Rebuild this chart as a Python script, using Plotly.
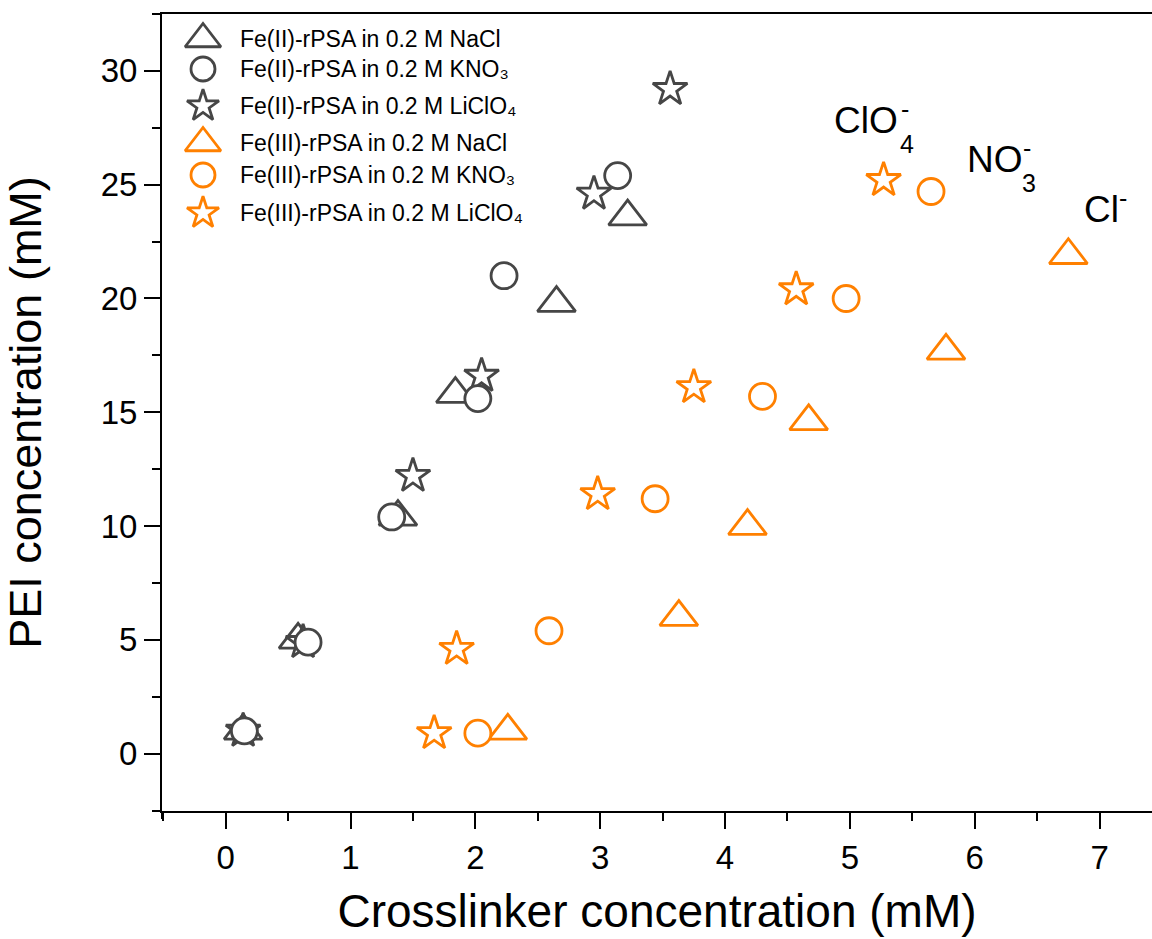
import plotly.graph_objects as go

# ---------------- data ----------------
fe2_nacl_x = [0.14, 0.58, 1.38, 1.84, 2.65, 3.22]
fe2_nacl_y = [1.0, 5.0, 10.4, 15.8, 19.8, 23.6]
fe2_kno3_x = [0.15, 0.66, 1.33, 2.02, 2.23, 3.14]
fe2_kno3_y = [1.0, 4.9, 10.4, 15.6, 21.0, 25.4]
fe2_liclo4_x = [0.14, 0.62, 1.50, 2.05, 2.95, 3.56]
fe2_liclo4_y = [1.0, 4.9, 12.2, 16.6, 24.6, 29.2]

fe3_nacl_x = [2.26, 3.63, 4.18, 4.67, 5.77, 6.75]
fe3_nacl_y = [1.0, 6.0, 10.0, 14.6, 17.7, 21.9]
fe3_kno3_x = [2.02, 2.59, 3.44, 4.30, 4.97, 5.65]
fe3_kno3_y = [0.9, 5.4, 11.2, 15.7, 20.0, 24.7]
fe3_liclo4_x = [1.67, 1.85, 2.98, 3.75, 4.57, 5.27]
fe3_liclo4_y = [0.9, 4.6, 11.4, 16.1, 20.4, 25.2]

series_names = [
    "Fe(II)-rPSA in 0.2 M NaCl",
    "Fe(II)-rPSA in 0.2 M KNO\u2083",
    "Fe(II)-rPSA in 0.2 M LiClO\u2084",
    "Fe(III)-rPSA in 0.2 M NaCl",
    "Fe(III)-rPSA in 0.2 M KNO\u2083",
    "Fe(III)-rPSA in 0.2 M LiClO\u2084",
]
x_tick_vals = [0, 1, 2, 3, 4, 5, 6, 7]
y_tick_vals = [0, 5, 10, 15, 20, 25, 30]

# ---------------- styles ----------------
GRAY = "#464646"
ORANGE = "#FF8000"
FONT = "Liberation Sans, Arial, DejaVu Sans, sans-serif"
W, H = 1152, 939
ML, MR, MT, MB = 162, 0, 14, 128
PW, PH = W - ML - MR, H - MT - MB

sizes = {"triangle-up": 33, "circle": 26, "star": 26}
LW = 2.8

series = [
    (fe2_nacl_x, fe2_nacl_y, "triangle-up", GRAY, series_names[0]),
    (fe2_kno3_x, fe2_kno3_y, "circle", GRAY, series_names[1]),
    (fe2_liclo4_x, fe2_liclo4_y, "star", GRAY, series_names[2]),
    (fe3_nacl_x, fe3_nacl_y, "triangle-up", ORANGE, series_names[3]),
    (fe3_kno3_x, fe3_kno3_y, "circle", ORANGE, series_names[4]),
    (fe3_liclo4_x, fe3_liclo4_y, "star", ORANGE, series_names[5]),
]
draw_order = [0, 2, 1, 3, 5, 4]

fig = go.Figure()
for i in draw_order:
    xs, ys, sym, col, name = series[i]
    fig.add_trace(go.Scatter(
        x=xs, y=ys, mode="markers", name=name, showlegend=False,
        marker=dict(symbol=sym, size=sizes[sym], color="white",
                    line=dict(color=col, width=LW)),
        cliponaxis=False,
    ))

# ---------------- custom legend (large keys like the reference) ----------------
legend_key_px_x = 203
legend_text_px_x = 238
legend_rows_px = [39, 69, 106, 143, 175, 213]
for (xs, ys, sym, col, name), ry in zip(series, legend_rows_px):
    fig.add_trace(go.Scatter(
        x=[(legend_key_px_x - ML) / PW], y=[(MT + PH - ry) / PH],
        xaxis="x2", yaxis="y2", mode="markers", showlegend=False,
        hoverinfo="skip",
        marker=dict(symbol=sym, size=sizes[sym] - 2, color="white",
                    line=dict(color=col, width=LW)),
    ))
    fig.add_annotation(
        x=(legend_text_px_x - ML) / PW, y=(MT + PH - ry) / PH,
        xref="x2", yref="y2", text=name, showarrow=False,
        xanchor="left", yanchor="middle",
        font=dict(family=FONT, size=23, color="black"),
    )

# ---------------- ion labels ----------------
ion_font = dict(family=FONT, size=37, color="black")
sub_font = dict(family=FONT, size=25, color="black")
ion_labels = [
    # main text, x, y, subscript, superscript, main width px
    ("ClO", 4.86, 27.8, "4", "-", 66),
    ("NO", 5.92, 26.1, "3", "-", 55),
    ("Cl", 6.86, 23.9, None, "-", 34),
]
for txt, ax, ay, sub, sup, wpx in ion_labels:
    fig.add_annotation(x=ax, y=ay, text=txt, showarrow=False,
                       xanchor="left", yanchor="middle", font=ion_font)
    if sub:
        fig.add_annotation(x=ax, y=ay, text=sub, showarrow=False,
                           xanchor="left", yanchor="middle", font=sub_font,
                           xshift=wpx, yshift=-23)
    if sup:
        fig.add_annotation(x=ax, y=ay, text=sup, showarrow=False,
                           xanchor="left", yanchor="middle", font=sub_font,
                           xshift=wpx + 1, yshift=12)

# ---------------- axes ----------------
axis_common = dict(
    showline=True, linewidth=2, linecolor="black",
    ticks="outside", ticklen=16, tickwidth=2, tickcolor="black",
    showgrid=False, zeroline=False,
    tickfont=dict(family=FONT, size=33, color="black"),
)
fig.update_layout(
    width=W, height=H,
    margin=dict(l=ML, r=MR, t=MT, b=MB, pad=0),
    paper_bgcolor="white", plot_bgcolor="white",
    showlegend=False,
    xaxis=dict(
        range=[-0.51, 7.42], tickvals=x_tick_vals, mirror=True,
        minor=dict(dtick=0.5, tick0=0, ticks="outside", ticklen=8,
                   tickwidth=2, tickcolor="black"),
        title=dict(text="Crosslinker concentration (mM)",
                   font=dict(family=FONT, size=46, color="black"),
                   standoff=20),
        **axis_common,
    ),
    yaxis=dict(
        range=[-2.52, 32.5], tickvals=y_tick_vals,
        minor=dict(dtick=2.5, tick0=0, ticks="outside", ticklen=8,
                   tickwidth=2, tickcolor="black"),
        title=dict(text="PEI concentration (mM)",
                   font=dict(family=FONT, size=45, color="black"),
                   standoff=45),
        **axis_common,
    ),
    xaxis2=dict(overlaying="x", anchor="y2", range=[0, 1], visible=False,
                fixedrange=True),
    yaxis2=dict(overlaying="y", anchor="x2", range=[0, 1], visible=False,
                fixedrange=True),
)

# small Origin-style axis-line overhangs
fig.add_shape(type="line", xref="paper", yref="paper",
              x0=-9 / PW, x1=0, y0=0, y1=0, line=dict(color="black", width=2))
fig.add_shape(type="line", xref="paper", yref="paper",
              x0=-9 / PW, x1=0, y0=1, y1=1, line=dict(color="black", width=2))
fig.add_shape(type="line", xref="paper", yref="paper",
              x0=0, x1=0, y0=-8 / PH, y1=0, line=dict(color="black", width=2))

fig.write_html("out.html")
